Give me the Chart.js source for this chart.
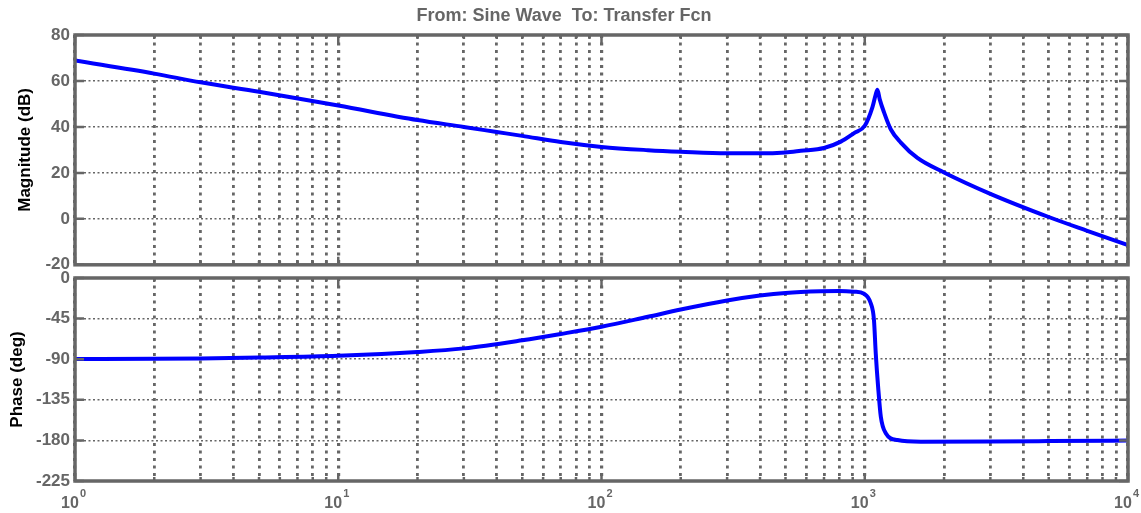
<!DOCTYPE html>
<html>
<head>
<meta charset="utf-8">
<title>Bode diagram</title>
<script src="https://cdn.jsdelivr.net/npm/chart.js@4.4.0/dist/chart.umd.min.js"></script>
<style>
  html, body { margin: 0; padding: 0; background: #fff; }
  #wrap { position: relative; width: 1141px; height: 513px; overflow: hidden; }
  #magChart { position: absolute; left: 0; top: 0; }
  #phaseChart { position: absolute; left: 0; top: 262px; }
</style>
</head>
<body>
<div id="wrap">
  <canvas id="magChart" width="1141" height="280"></canvas>
  <canvas id="phaseChart" width="1141" height="251"></canvas>
</div>
<script>
/* ---------- data (frequency in rad/s) ---------- */
const magFreq = [1, 2, 3, 5, 10, 20, 30, 40, 50, 70, 100, 150, 200, 300, 400, 500, 571, 700, 811, 911, 1000,
  1069, 1100, 1117, 1140, 1184, 1255, 1371, 1585, 2000, 3000, 5000, 7000, 10000];
const magDb = [68.9, 63.2, 59.4, 55.3, 49.3, 43.0, 40.0, 37.8, 36.1, 33.4, 31.3, 29.9, 29.2, 28.5, 28.5, 28.9, 29.6, 30.8, 33.6, 37.3, 40.5,
  48.5, 54.0, 56.2, 52.0, 46.3, 39.0, 33.2, 26.5, 20.2, 10.9, 0.8, -5.2, -11.4];

const phaseFreq = [1, 2, 3, 5, 10, 20, 30, 50, 70, 100, 150, 200, 300, 400, 500, 680, 800, 911, 994, 1054,
  1084, 1101, 1124, 1151, 1202, 1331, 1633, 3000, 5000, 10000];
const phaseDeg = [-89.8, -89.5, -89.1, -88.2, -86.3, -82, -78, -69, -62, -54, -43, -35, -25, -19.5, -16.5, -14.6, -14.3, -15.2, -17.5, -28,
  -46.6, -83.5, -120.5, -153.8, -172, -179.6, -181.4, -181.2, -180.8, -180.2];

// x axis decades and their exponent labels
const decades = [1, 10, 100, 1000, 10000];
const decadeExp = ['0', '1', '2', '3', '4'];

const plotTitle = 'From: Sine Wave  To: Transfer Fcn';
const magTitle = 'Magnitude (dB)';
const phaseTitle = 'Phase (deg)';

/* ---------- styling ---------- */
const gray = '#666666';
const lineBlue = '#0000ff';
const family = '"Liberation Sans", Arial, Helvetica, sans-serif';

// 1..9, 10..90, ... , 10000 for the log grid
const gridFreqs = [];
decades.forEach((d, i) => {
  if (i === decades.length - 1) { gridFreqs.push(d); return; }
  for (let k = 1; k < 10; k++) gridFreqs.push(d * k);
});

const toPoints = (xs, ys) => xs.map((x, i) => ({ x: x, y: ys[i] }));

// thick frame plus inward tick marks, like a MATLAB axes box
const framePlugin = {
  id: 'frame',
  afterDraw(chart) {
    const { ctx, chartArea: a, scales } = chart;
    ctx.save();
    ctx.strokeStyle = gray;
    ctx.lineWidth = 2.5;
    ctx.beginPath();
    scales.y.ticks.forEach(t => {
      const py = scales.y.getPixelForValue(t.value);
      ctx.moveTo(a.left, py); ctx.lineTo(a.left + 9, py);
      ctx.moveTo(a.right, py); ctx.lineTo(a.right - 9, py);
    });
    scales.x.ticks.forEach(t => {
      const px = scales.x.getPixelForValue(t.value);
      const len = decades.includes(t.value) ? 8 : 4;
      ctx.moveTo(px, a.top); ctx.lineTo(px, a.top + len);
      ctx.moveTo(px, a.bottom); ctx.lineTo(px, a.bottom - len);
    });
    ctx.stroke();
    ctx.lineWidth = 3.5;
    ctx.strokeRect(a.left, a.top, a.right - a.left, a.bottom - a.top);
    ctx.restore();
  }
};

// "10^n" labels under the phase plot
const decadeLabels = {
  id: 'decadeLabels',
  afterDraw(chart) {
    const { ctx, chartArea: a } = chart;
    const xs = chart.scales.x;
    ctx.save();
    ctx.fillStyle = gray;
    ctx.textAlign = 'left';
    ctx.textBaseline = 'alphabetic';
    decades.forEach((d, i) => {
      const px = xs.getPixelForValue(d);
      ctx.font = 'bold 16px ' + family;
      ctx.fillText('10', px - 14, a.bottom + 27);
      ctx.font = 'bold 11px ' + family;
      ctx.fillText(decadeExp[i], px + 5, a.bottom + 16);
    });
    ctx.restore();
  }
};

function bodeOptions(o) {
  return {
    responsive: false,
    animation: false,
    layout: { padding: { left: 0, right: 13, top: o.padTop, bottom: 0 } },
    plugins: {
      legend: { display: false },
      tooltip: { enabled: false },
      title: o.title ? {
        display: true,
        text: o.title,
        color: gray,
        font: { family: family, size: 18, weight: 'bold' },
        padding: { top: 5.5, bottom: 7.9 }
      } : { display: false }
    },
    scales: {
      x: {
        type: 'logarithmic',
        min: 1,
        max: 10000,
        ticks: { display: false },
        grid: {
          color: gray,
          lineWidth: c => decades.includes(c.tick && c.tick.value) ? 3.2 : 2.8,
          drawTicks: false
        },
        border: { display: false, dash: [3, 4.5] },
        afterBuildTicks: s => { s.ticks = gridFreqs.map(v => ({ value: v })); },
        afterFit: s => { s.height = o.xHeight; }
      },
      y: {
        min: o.yMin,
        max: o.yMax,
        ticks: {
          stepSize: o.yStep,
          color: gray,
          padding: 5,
          font: { family: family, size: 17, weight: 'bold' }
        },
        grid: { color: gray, lineWidth: 1.5, drawTicks: false },
        border: { display: false, dash: [2, 2.5] },
        title: {
          display: true,
          text: o.yTitle,
          color: '#000',
          font: { family: family, size: 17, weight: 'bold' },
          padding: { top: o.yTitlePad, bottom: 0 }
        },
        afterFit: s => { s.width = 75; }
      }
    }
  };
}

function lineDataset(pts) {
  return {
    data: pts,
    borderColor: lineBlue,
    borderWidth: 4,
    pointRadius: 0,
    cubicInterpolationMode: 'monotone',
    fill: false
  };
}

/* ---------- magnitude ---------- */
new Chart(document.getElementById('magChart'), {
  type: 'line',
  data: { datasets: [lineDataset(toPoints(magFreq, magDb))] },
  options: bodeOptions({
    title: plotTitle, padTop: 0, xHeight: 13,
    yMin: -20, yMax: 80, yStep: 20, yTitle: magTitle, yTitlePad: 15
  }),
  plugins: [framePlugin]
});

/* ---------- phase ---------- */
new Chart(document.getElementById('phaseChart'), {
  type: 'line',
  data: { datasets: [lineDataset(toPoints(phaseFreq, phaseDeg))] },
  options: bodeOptions({
    title: null, padTop: 16, xHeight: 32,
    yMin: -225, yMax: 0, yStep: 45, yTitle: phaseTitle, yTitlePad: 7
  }),
  plugins: [framePlugin, decadeLabels]
});
</script>
</body>
</html>
